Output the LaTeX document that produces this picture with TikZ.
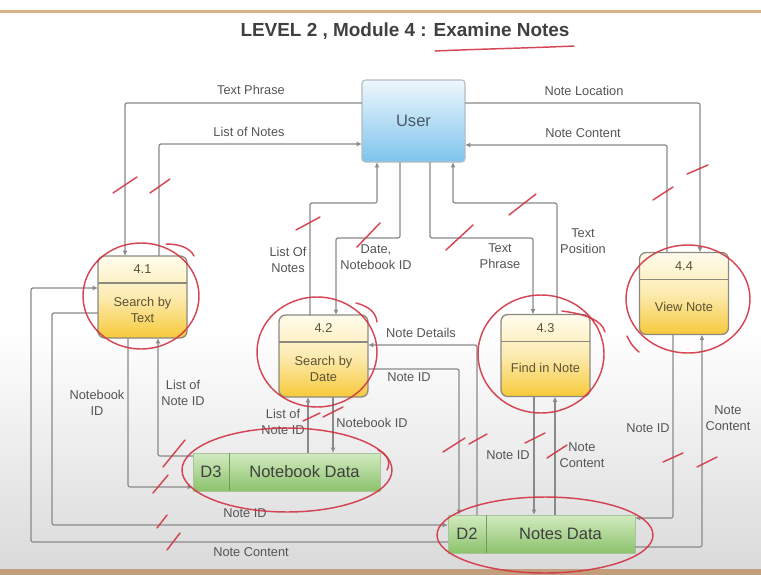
\documentclass[tikz,border=0pt]{standalone}
\usepackage{fontspec}
\setmainfont{Liberation Sans}
\usetikzlibrary{arrows.meta,calc}

\definecolor{flowgrey}{HTML}{8A8A8A}
\definecolor{labelgrey}{HTML}{555555}
\definecolor{procborder}{HTML}{8C8A80}
\definecolor{proctop}{HTML}{FFFCEE}
\definecolor{procmid}{HTML}{FCEBB0}
\definecolor{procbot}{HTML}{F7C93A}
\definecolor{proctext}{HTML}{5A5234}
\definecolor{usertop}{HTML}{EEF7FC}
\definecolor{userbot}{HTML}{7EC4EE}
\definecolor{userborder}{HTML}{B4BCC4}
\definecolor{usertext}{HTML}{4A5868}
\definecolor{storetop}{HTML}{D2EAC0}
\definecolor{storebot}{HTML}{8CC36C}
\definecolor{storeline}{HTML}{6E9C5C}
\definecolor{inkred}{HTML}{D23444}
\definecolor{frametan}{HTML}{D8B089}
\definecolor{floorgrey}{HTML}{DADADA}

\newcommand\procparts[4]{%
  \draw[procborder, line width=0.9pt]
    ($(#1.north west)+(0,27)$) -- ($(#1.north east)+(0,27)$);
  \node[proctextstyle] (#1num) at ($(#1.north)+(0,13.5)$) {#2};
  \node[proctextstyle] (#1txt) at ($(#1.center)+(0,#4)$) {#3};
}

\begin{document}
\begin{tikzpicture}[x=0.75pt,y=-0.75pt,
  flow/.style={draw=flowgrey, line width=0.9pt, rounded corners=1.5pt,
    -{Latex[length=4pt,width=3.6pt]}},
  flowlabel/.style={text=labelgrey, font=\fontsize{9.6}{12}\selectfont,
    align=center, inner sep=1pt},
  procbox/.style={draw=procborder, line width=1pt, rounded corners=5pt,
    top color=proctop, bottom color=procbot, middle color=procmid,
    minimum width=66.75pt, minimum height=61.5pt, inner sep=0pt, outer sep=0pt},
  proctextstyle/.style={text=proctext, font=\fontsize{9.6}{12}\selectfont,
    align=center, inner sep=0pt},
  userbox/.style={draw=userborder, line width=0.8pt, rounded corners=2.5pt,
    top color=usertop, bottom color=userbot,
    minimum width=77.25pt, minimum height=61.5pt, inner sep=0pt, outer sep=0pt},
  storebox/.style={draw=storebot!80!black!60, line width=0.4pt,
    top color=storetop, bottom color=storebot,
    minimum width=140.25pt, minimum height=28.5pt, inner sep=0pt, outer sep=0pt},
  storetext/.style={text=black!75, font=\fontsize{12.4}{14}\selectfont, inner sep=0pt},
  ink/.style={draw=inkred, line width=1.1pt, line cap=round, opacity=0.9},
]
\useasboundingbox (0,0) rectangle (761,575);

% slide background and frame
\fill[white] (0,0) rectangle (761,575);
\fill[top color=white, bottom color=floorgrey] (0,330) rectangle (761,569);
\fill[frametan] (0,9.5) rectangle (761,12.5);
\fill[frametan!90!black] (0,569) rectangle (761,575);

% title
\node[text=black!75, font=\bfseries\fontsize{14.2}{16}\selectfont] (title) at (405,31)
  {LEVEL 2 , Module 4 : Examine Notes};

% external entity
\node[userbox] (user) at (413.5,121) {};
\node[text=usertext, font=\fontsize{12.4}{14}\selectfont] (usertxt) at (user.center) {User};

% processes
\node[procbox] (p41) at (142.5,297) {};
\node[procbox] (p42) at (323.5,356) {};
\node[procbox] (p43) at (545.5,355.5) {};
\node[procbox] (p44) at (684,293.5) {};
\procparts{p41}{4.1}{Search by\\Text}{13}
\procparts{p42}{4.2}{Search by\\Date}{13}
\procparts{p43}{4.3}{Find in Note}{12.5}
\procparts{p44}{4.4}{View Note}{13.5}

% data stores
\node[storebox] (d3) at (286.5,472) {};
\draw[storeline, line width=0.6pt] (229,0 |- d3.north) -- (229,0 |- d3.south);
\node[storetext] (d3id) at (211,472) {D3};
\node[storetext] (d3txt) at (304.5,472) {Notebook Data};

\node[storebox] (d2) at (541.5,534) {};
\draw[storeline, line width=0.6pt] (486,0 |- d2.north) -- (486,0 |- d2.south);
\node[storetext] (d2id) at (467,534) {D2};
\node[storetext] (d2txt) at (560.5,534) {Notes Data};

% flows between the user and the processes
\draw[flow] (user.west |- 0,103) -| (125,0 |- p41.north);
\draw[flow] (159,0 |- p41.north) |- (user.west |- 0,144);
\draw[flow] (user.east |- 0,103) -| (700,0 |- p44.north);
\draw[flow] (667,0 |- p44.north) |- (user.east |- 0,145);
\draw[flow] (310,0 |- p42.north) |- (377,203) -- (377,0 |- user.south);
\draw[flow] (400,0 |- user.south) |- (336,238) -- (336,0 |- p42.north);
\draw[flow] (430,0 |- user.south) |- (533,238) -- (533,0 |- p43.north);
\draw[flow] (557,0 |- p43.north) |- (453,203) -- (453,0 |- user.south);

% flows between the processes and the data stores
\draw[flow] (d2.west |- 0,542) -| (31,288) -- (p41.west |- 0,288);
\draw[flow] (p41.west |- 0,313) -| (52,525) -- (d2.west |- 0,525);
\draw[flow] (128,0 |- p41.south) |- (d3.west |- 0,487);
\draw[flow] (d3.west |- 0,456) -| (158,0 |- p41.south);
\draw[flow] (308,0 |- d3.north) -- (308,0 |- p42.south);
\draw[flow] (333,0 |- p42.south) -- (333,0 |- d3.north);
\draw[flow] (477,0 |- d2.north) |- (p42.east |- 0,345);
\draw[flow] (p42.east |- 0,369) -| (459,0 |- d2.north);
\draw[flow] (534,0 |- p43.south) -- (534,0 |- d2.north);
\draw[flow] (555,0 |- d2.north) -- (555,0 |- p43.south);
\draw[flow] (673,0 |- p44.south) |- (d2.east |- 0,518);
\draw[flow] (d2.east |- 0,547) -| (702,0 |- p44.south);

% flow labels
\node[flowlabel] (l1) at (251,90) {Text Phrase};
\node[flowlabel] (l2) at (249,132) {List of Notes};
\node[flowlabel] (l3) at (584,91) {Note Location};
\node[flowlabel] (l4) at (583,133) {Note Content};
\node[flowlabel] (l5) at (288,260) {List Of\\Notes};
\node[flowlabel] (l6) at (376,257) {Date,\\Notebook ID};
\node[flowlabel] (l7) at (500,256) {Text\\Phrase};
\node[flowlabel] (l8) at (583,241) {Text\\Position};
\node[flowlabel] (l9) at (421,333) {Note Details};
\node[flowlabel] (l10) at (409,377) {Note ID};
\node[flowlabel] (l11) at (283,422) {List of\\Note ID};
\node[flowlabel] (l12) at (372,423) {Notebook ID};
\node[flowlabel] (l13) at (97,403) {Notebook\\ID};
\node[flowlabel] (l14) at (183,393) {List of\\Note ID};
\node[flowlabel] (l15) at (245,513) {Note ID};
\node[flowlabel] (l16) at (251,552) {Note Content};
\node[flowlabel] (l17) at (508,455) {Note ID};
\node[flowlabel] (l18) at (582,455) {Note\\Content};
\node[flowlabel] (l19) at (648,428) {Note ID};
\node[flowlabel] (l20) at (728,418) {Note\\Content};

% red pen marks
\draw[ink] (435,51) .. controls (480,49) and (530,48) .. (574,46);
\draw[ink] (141,296) ellipse [x radius=58, y radius=53];
\draw[ink] (166,244) .. controls (180,244) and (190,248) .. (194,256);
\draw[ink] (317,352) ellipse [x radius=60, y radius=55];
\draw[ink] (356,303) .. controls (368,306) and (376,312) .. (377,322);
\draw[ink] (541,354) ellipse [x radius=63, y radius=59];
\draw[ink] (562,311) .. controls (585,314) and (602,320) .. (605,332);
\draw[ink] (688,299) ellipse [x radius=62, y radius=54];
\draw[ink] (627,336) .. controls (630,343) and (634,348) .. (639,352);
\draw[ink] (287,470) ellipse [x radius=105, y radius=42];
\draw[ink] (378,450) .. controls (388,455) and (391,462) .. (387,470);
\draw[ink] (545,535) ellipse [x radius=108, y radius=38];

\foreach \ax/\ay/\bx/\by in {
  113/193/137/177, 150/193/170/179, 296/230/320/217, 357/247/380/223,
  446/250/473/225, 509/215/536/194, 653/200/673/187, 687/174/708/165,
  303/421/320/413, 323/417/343/407, 443/452/465/438, 469/444/487/434,
  525/443/545/433, 547/458/567/445, 663/462/683/453, 697/467/717/457,
  163/467/185/440, 153/493/168/475, 157/528/167/515, 167/550/180/533}
  \draw[ink] (\ax,\ay) -- (\bx,\by);
\end{tikzpicture}
\end{document}
